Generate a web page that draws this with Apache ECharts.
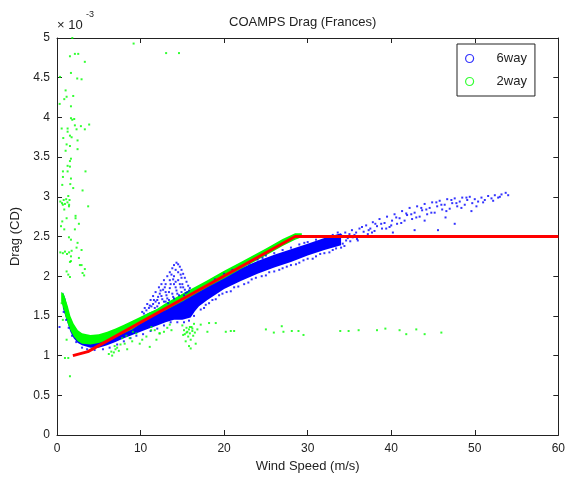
<!DOCTYPE html>
<html>
<head>
<meta charset="utf-8">
<script src="https://cdn.jsdelivr.net/npm/echarts@6/dist/echarts.min.js"></script>
<style>
  html, body { margin: 0; padding: 0; background: #fff; }
  #main { width: 568px; height: 478px; }
</style>
</head>
<body>
<div id="main"></div>
<script>
// drag values are in units of 1e-3 (the axis shows "x 10^-3")
const xTicks = [0, 10, 20, 30, 40, 50, 60];
const yTicks = [0, 0.5, 1, 1.5, 2, 2.5, 3, 3.5, 4, 4.5, 5];

// dense part of the 6way cloud: lower / upper edge
const blueBandX    = [0.7, 1.0, 1.3, 1.6, 2.0, 2.5, 3.0, 4.0, 5.0, 6.0, 7.0, 8.0, 9.0, 10.0, 11.0, 12.0, 13.0, 14.0, 15.0, 16.0, 16.5, 17.0, 18.0, 20.0, 22.0, 24.0, 26.0, 28.0, 30.0, 32.0, 34.0];
const blueBandLow  = [1.60, 1.50, 1.40, 1.30, 1.22, 1.16, 1.13, 1.10, 1.10, 1.13, 1.17, 1.22, 1.26, 1.30, 1.34, 1.38, 1.42, 1.45, 1.45, 1.48, 1.56, 1.62, 1.70, 1.84, 1.94, 2.03, 2.11, 2.18, 2.26, 2.33, 2.39];
const blueBandHigh = [1.80, 1.72, 1.58, 1.46, 1.36, 1.28, 1.24, 1.20, 1.22, 1.25, 1.30, 1.36, 1.42, 1.48, 1.54, 1.58, 1.64, 1.70, 1.76, 1.80, 1.83, 1.86, 1.92, 2.00, 2.10, 2.19, 2.27, 2.34, 2.41, 2.48, 2.54];

// dense part of the 2way cloud
const greenBandX    = [0.5, 0.8, 1.0, 1.3, 1.6, 2.0, 2.5, 3.0, 4.0, 5.0, 6.0, 7.0, 8.0, 9.0, 10.0, 11.0, 12.0, 13.0, 15.0, 18.0, 20.0, 22.0, 25.0, 27.0, 28.5, 29.3];
const greenBandLow  = [1.68, 1.58, 1.50, 1.40, 1.32, 1.24, 1.18, 1.15, 1.14, 1.16, 1.19, 1.23, 1.28, 1.33, 1.40, 1.46, 1.53, 1.57, 1.68, 1.86, 1.97, 2.09, 2.26, 2.38, 2.46, 2.49];
const greenBandHigh = [1.80, 1.78, 1.72, 1.62, 1.50, 1.40, 1.32, 1.28, 1.26, 1.27, 1.30, 1.34, 1.39, 1.44, 1.49, 1.54, 1.59, 1.66, 1.78, 1.95, 2.07, 2.18, 2.35, 2.47, 2.54, 2.54];

// scattered 6way points
const blueEdge = [
  [0.3,1.36],[0.8,1.55],[1.1,1.45],[1.4,1.35],[1.8,1.25],[2.3,1.17],[3.0,1.10],[3.6,1.08],[4.5,1.07],[5.5,1.08],
  [6.3,1.10],[7.2,1.14],[8.0,1.18],[8.8,1.22],[9.5,1.25],[10.3,1.27],[11.2,1.31],[12.0,1.34],[12.8,1.38],[13.6,1.42],
  [14.4,1.42],[15.2,1.42],[15.8,1.44],[16.4,1.50],[17.2,1.58],[17.8,1.64],[18.6,1.70],[19.4,1.76],[20.3,1.80],[21.2,1.86],
  [22.4,1.90],[23.3,1.96],[24.5,2.00],[25.4,2.05],[26.6,2.08],[27.5,2.12],[28.6,2.15],[29.5,2.20],[30.6,2.22],[31.5,2.28],
  [32.6,2.30],[33.4,2.35],[21.0,2.08],[23.0,2.16],[25.0,2.26],[27.0,2.33],[29.0,2.40],[31.0,2.46],[33.0,2.52],
  [17.6,1.60],[18.2,1.66],[19.0,1.71],[19.8,1.78],[20.8,1.81],[21.7,1.87],[22.9,1.92],[23.8,1.98],[25.0,2.01],[26.0,2.06],
  [27.0,2.10],[28.0,2.14],[29.0,2.17],[30.0,2.22],[31.0,2.25],[32.0,2.29],[33.0,2.33],[34.0,2.36],[22.0,2.12],[24.0,2.21],
  [26.0,2.29],[28.0,2.36],[30.0,2.43],[32.0,2.50],[33.6,2.55],[20.0,2.03],[18.9,1.96],[24.6,2.23],[29.6,2.42],[34.4,2.38]
];
const blueFan = [
  [10.2,1.55],[10.5,1.60],[10.8,1.65],[11.2,1.70],[11.5,1.75],[11.8,1.80],[12.2,1.86],[12.5,1.90],[12.8,1.95],[13.2,2.00],
  [13.5,2.05],[13.8,2.10],[14.0,2.14],[14.3,2.17],[14.5,2.15],[14.7,2.12],[14.9,2.08],[15.1,2.03],[15.3,1.98],[15.5,1.93],
  [15.7,1.88],[15.9,1.85],[11.0,1.60],[11.5,1.65],[12.0,1.70],[12.5,1.75],[13.0,1.80],[13.5,1.85],[14.0,1.90],[14.5,1.95],
  [15.0,1.90],[12.0,1.62],[12.8,1.68],[13.2,1.72],[13.8,1.78],[14.3,1.82],[14.8,1.86],[15.3,1.83],[13.0,1.90],[13.5,1.95],
  [14.0,2.00],[14.5,2.05],[13.7,2.02],[14.2,2.08],[12.3,1.78],[12.7,1.83],[11.8,1.68],[11.3,1.62],[13.3,1.66],[14.0,1.72],
  [14.6,1.76],[15.2,1.76],[15.6,1.80],[14.9,1.98],[14.2,1.93],[13.6,1.90],[12.9,1.86],[14.8,2.02],[13.9,1.96],[12.4,1.82],
  [10.4,1.53],[10.7,1.57],[11.1,1.63],[11.6,1.70],[12.1,1.74],[12.6,1.71],[13.1,1.76],[13.4,1.70],[13.9,1.74],[14.4,1.78],
  [14.9,1.80],[15.4,1.79],[15.8,1.82],[12.2,1.66],[11.7,1.60],[13.0,1.68],[14.2,1.86],[14.7,1.90],[15.1,1.86],[13.4,1.80]
];
const blueTail = [
  [34.2,2.41],[34.5,2.55],[34.8,2.48],[35.1,2.44],[35.3,2.58],[35.6,2.52],[35.9,2.47],[36.2,2.60],[36.4,2.50],[36.7,2.56],
  [37.0,2.64],[37.2,2.53],[37.5,2.60],[37.8,2.68],[38.0,2.57],[38.3,2.63],[38.6,2.72],[38.9,2.60],[39.2,2.67],[39.5,2.75],
  [39.8,2.62],[40.1,2.70],[40.4,2.78],[40.7,2.66],[41.0,2.73],[41.3,2.82],[41.6,2.70],[41.9,2.77],[42.2,2.86],[42.5,2.72],
  [42.8,2.80],[43.1,2.88],[43.4,2.75],[43.7,2.83],[44.0,2.91],[44.3,2.78],[44.6,2.86],[44.9,2.93],[45.2,2.80],[45.5,2.88],
  [45.8,2.95],[46.1,2.84],[46.4,2.90],[46.7,2.97],[47.0,2.85],[47.3,2.92],[47.6,2.98],[47.9,2.88],[48.2,2.94],[48.5,2.99],
  [48.8,2.90],[49.1,2.96],[49.4,3.00],[49.7,2.92],[50.0,2.97],[50.4,2.94],[50.8,2.99],[51.2,2.96],[51.6,3.01],[52.0,2.98],
  [52.4,3.02],[52.8,2.99],[53.2,3.03],[53.7,3.05],[54.0,3.02],[45.6,2.58],[42.8,2.58],[47.6,2.66],[40.2,2.55],[38.2,2.50],
  [44.0,2.70],[46.5,2.74],[49.6,2.82],[34.0,2.52],[34.6,2.45],[35.0,2.53],[35.4,2.49],[35.8,2.55],[36.0,2.45],[36.5,2.62],
  [36.9,2.50],[37.3,2.58],[37.7,2.55],[38.1,2.66],[38.8,2.66],[39.4,2.60],[40.0,2.64],[40.6,2.74],[41.2,2.67],[41.8,2.79],
  [42.4,2.78],[43.0,2.74],[43.6,2.86],[44.2,2.84],[44.8,2.80],[45.4,2.93],[46.0,2.90],[46.6,2.82],[47.2,2.96],[47.8,2.92],
  [48.4,2.86],[49.0,2.99],[50.2,2.88],[51.0,2.93],[52.2,2.95],[53.0,3.00]
];

// scattered 2way points
const greenHigh = [
  [1.83,5.00],[9.17,4.93],[1.55,4.77],[2.14,4.80],[2.54,4.80],[3.33,4.70],[0.36,4.51],[1.67,4.56],[2.42,4.49],[2.94,4.48],
  [1.03,4.34],[1.94,4.27],[1.15,4.26],[0.87,4.23],[0.32,4.17],[1.67,4.14],[1.67,3.99],[2.06,3.98],[1.83,3.97],[0.56,3.86],
  [1.27,3.86],[2.14,3.90],[2.34,3.85],[2.86,3.89],[3.33,3.85],[3.85,3.91],[1.27,3.82],[1.55,3.77],[1.75,3.75],[0.75,3.74],
  [2.46,3.71],[1.15,3.66],[1.55,3.64],[1.03,3.58],[2.46,3.60],[1.67,3.48],[1.55,3.45],[1.27,3.39],[1.55,3.38],[0.71,3.32],
  [1.27,3.32],[3.41,3.32],[0.71,3.25],[1.67,3.23],[1.59,3.16],[0.63,3.15],[1.94,3.11],[3.06,3.08],[1.35,3.01],[0.40,2.94],
  [0.60,2.92],[0.80,2.96],[0.95,2.91],[1.10,2.97],[1.25,2.93],[1.45,2.90],[1.50,2.96],[0.70,2.90],[1.43,2.88],[0.87,2.84],
  [3.73,2.88],[2.22,2.76],[1.15,2.73],[2.22,2.73],[2.62,2.66],[0.63,2.69],[0.48,2.63],[2.14,2.59],[0.87,2.59],[1.43,2.49],
  [1.67,2.46],[2.46,2.42],[2.34,2.36],[2.94,2.33],[0.40,2.30],[0.70,2.29],[0.95,2.31],[1.20,2.28],[1.45,2.30],[1.75,2.32],
  [1.67,2.25],[2.62,2.23],[1.67,2.19],[2.74,2.14],[3.33,2.09],[3.06,2.04],[1.15,2.06],[1.55,1.99],[1.55,2.18],[2.94,2.14],
  [3.25,2.01],[1.35,2.02],[13.06,4.81],[14.6,4.81],[0.56,1.66],[1.15,1.20],[0.95,0.97],[1.55,0.74],[1.35,0.97],[0.70,1.45]
];
const greenLow = [
  [6.2,1.02],[6.5,1.05],[6.8,1.04],[7.0,1.08],[7.2,1.10],[6.6,1.00],[7.4,1.06],[6.9,1.12],[7.6,1.14],[8.1,1.15],
  [8.4,1.08],[8.7,1.22],[9.0,1.18],[9.5,1.28],[9.9,1.15],[10.2,1.20],[10.7,1.24],[11.1,1.11],[11.3,1.36],[11.7,1.32],
  [11.9,1.20],[12.3,1.28],[12.8,1.30],[13.2,1.35],[13.5,1.39],[13.7,1.32],[9.08,1.30],[11.27,1.32],[12.26,1.28],[7.8,1.22],
  [8.3,1.25],[15.0,1.38],[15.2,1.32],[15.3,1.27],[15.5,1.35],[15.6,1.30],[15.7,1.24],[15.8,1.33],[15.9,1.28],[16.0,1.20],
  [16.1,1.36],[16.2,1.31],[16.3,1.25],[16.4,1.40],[16.5,1.29],[16.6,1.15],[16.0,1.09],[15.4,1.18],[15.8,1.12],[16.8,1.33],
  [15.1,1.26],[15.5,1.29],[16.2,1.34],[15.9,1.36],[17.2,1.39],[18.0,1.30],[18.2,1.41],[19.0,1.41],[20.2,1.30],[20.8,1.31],
  [21.2,1.31],[25.0,1.33],[25.95,1.29],[26.9,1.37],[27.1,1.30],[28.1,1.31],[28.9,1.31],[29.5,1.26],[33.9,1.31],[34.9,1.31],
  [36.1,1.32],[38.3,1.32],[39.3,1.34],[41.0,1.32],[41.8,1.27],[43.0,1.33],[44.0,1.27],[46.0,1.29]
];

const redLine = [[1.9, 1.00], [3.7, 1.05], [28.5, 2.50], [60, 2.50]];

const chart = echarts.init(document.getElementById('main'));

// band = closed polygon: lower edge forward, upper edge back
function bandSeries(name, xs, lo, hi, color) {
  return {
    name: name,
    type: 'custom',
    silent: true,
    clip: true,
    data: [0],
    renderItem: function (params, api) {
      const pts = [];
      for (let i = 0; i < xs.length; i++) pts.push(api.coord([xs[i], lo[i]]));
      for (let i = xs.length - 1; i >= 0; i--) pts.push(api.coord([xs[i], hi[i]]));
      return { type: 'polygon', shape: { points: pts }, style: { fill: color } };
    }
  };
}

function dots(name, data, color) {
  return {
    name: name,
    type: 'scatter',
    symbol: 'rect',
    symbolSize: 2,
    silent: true,
    itemStyle: { color: color },
    data: data
  };
}

const axisFont = { fontFamily: 'Liberation Sans', fontSize: 12, color: '#222' };
const frameLine = { onZero: false, lineStyle: { color: '#222' } };
const frameTick = { inside: true, length: 5, lineStyle: { color: '#222' } };

const option = {
  animation: false,
  backgroundColor: '#fff',
  title: {
    text: 'COAMPS Drag (Frances)',
    left: 224, top: 11,
    textStyle: { fontFamily: 'Liberation Sans', fontSize: 13, fontWeight: 'normal', color: '#222' }
  },
  legend: {
    orient: 'vertical',
    left: 457, top: 44,
    padding: [8, 8, 8, 8],
    itemGap: 10,
    itemWidth: 44, itemHeight: 8,
    backgroundColor: '#fff',
    borderColor: '#222', borderWidth: 1,
    textStyle: { fontFamily: 'Liberation Sans', fontSize: 13, color: '#222' },
    data: [
      { name: '6way', icon: 'circle', itemStyle: { color: 'rgba(0,0,0,0)', borderColor: '#0000ff', borderWidth: 1.2 } },
      { name: '2way', icon: 'circle', itemStyle: { color: 'rgba(0,0,0,0)', borderColor: '#00ff00', borderWidth: 1.2 } }
    ]
  },
  grid: { left: 57, right: 7, top: 38, bottom: 43 },
  xAxis: [{
    type: 'value', min: 0, max: 60, interval: 10,
    name: 'Wind Speed (m/s)', nameLocation: 'middle', nameGap: 25,
    nameTextStyle: { fontFamily: 'Liberation Sans', fontSize: 13, color: '#222' },
    axisLine: frameLine, axisTick: frameTick,
    axisLabel: Object.assign({ margin: 8 }, axisFont),
    splitLine: { show: false }
  }, {
    type: 'value', min: 0, max: 60, interval: 10, position: 'top',
    axisLine: frameLine, axisTick: frameTick,
    axisLabel: { show: false }, splitLine: { show: false }
  }],
  yAxis: [{
    type: 'value', min: 0, max: 5, interval: 0.5,
    name: 'Drag (CD)', nameLocation: 'middle', nameGap: 34,
    nameTextStyle: { fontFamily: 'Liberation Sans', fontSize: 13, color: '#222' },
    axisLine: frameLine, axisTick: frameTick,
    axisLabel: Object.assign({ margin: 7 }, axisFont),
    splitLine: { show: false }
  }, {
    type: 'value', min: 0, max: 5, interval: 0.5, position: 'right',
    axisLine: frameLine, axisTick: frameTick,
    axisLabel: { show: false }, splitLine: { show: false }
  }],
  graphic: [
    { type: 'text', left: 57, top: 19, style: { text: '\u00d7 10', font: '13px "Liberation Sans"', fill: '#222' } },
    { type: 'text', left: 86, top: 10, style: { text: '-3', font: '9px "Liberation Sans"', fill: '#222' } }
  ],
  series: [
    bandSeries('6way band', blueBandX, blueBandLow, blueBandHigh, '#0000ff'),
    dots('6way', blueEdge.concat(blueFan, blueTail), '#0000ff'),
    bandSeries('2way band', greenBandX, greenBandLow, greenBandHigh, '#00ff00'),
    dots('2way', greenHigh.concat(greenLow), '#00ff00'),
    {
      name: 'fit', type: 'line', silent: true, symbol: 'none',
      lineStyle: { color: '#ff0000', width: 3 },
      data: redLine
    }
  ]
};

chart.setOption(option);
</script>
</body>
</html>
